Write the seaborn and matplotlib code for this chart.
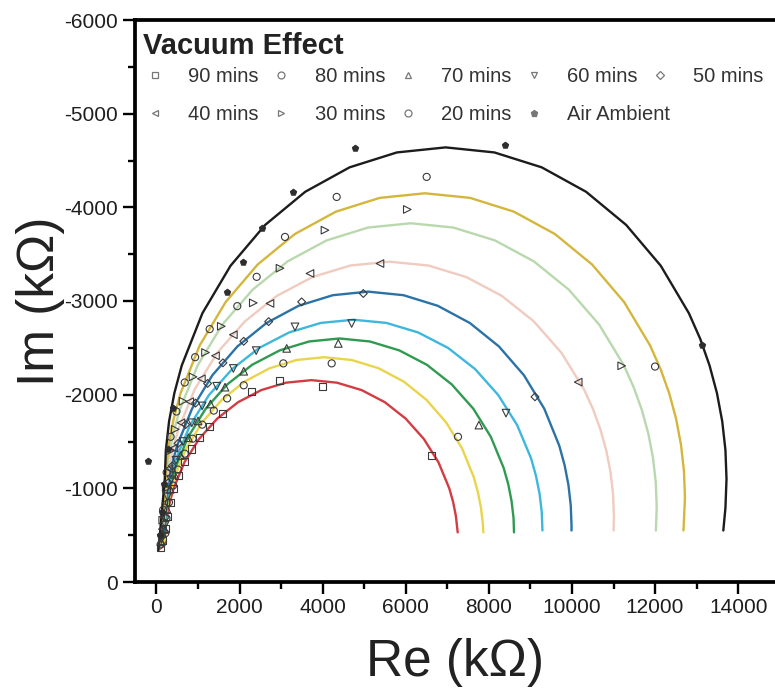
import matplotlib
matplotlib.use("Agg")
import matplotlib.pyplot as plt
from matplotlib.lines import Line2D
from matplotlib.ticker import MultipleLocator
import seaborn as sns

# series names, in legend order
labels = ["90 mins", "80 mins", "70 mins", "60 mins", "50 mins",
          "40 mins", "30 mins", "20 mins", "Air Ambient"]

# fitted curves (Re, Im in kOhm)
fit_x_90 = [70, 200, 213, 254, 320, 413, 673, 1026, 1461, 1965, 2523, 3117, 3730, 4343, 4937, 5495, 5999, 6434, 6787, 7047, 7140, 7206, 7250]
fit_y_90 = [-350, -400, -553, -705, -854, -1000, -1278, -1528, -1744, -1920, -2049, -2128, -2155, -2128, -2049, -1920, -1744, -1528, -1278, -1000, -854, -705, -530]

fit_x_80 = [60, 110, 200, 215, 258, 331, 431, 714, 1097, 1570, 2117, 2723, 3369, 4035, 4701, 5347, 5953, 6500, 6973, 7356, 7639, 7739, 7812, 7855, 7867]
fit_y_80 = [-350, -390, -450, -620, -789, -953, -1117, -1425, -1703, -1944, -2139, -2282, -2370, -2400, -2370, -2282, -2139, -1944, -1703, -1425, -1117, -953, -789, -620, -530]

fit_x_70 = [50, 100, 200, 216, 264, 343, 454, 763, 1184, 1702, 2302, 2967, 3675, 4405, 5135, 5843, 6508, 7108, 7626, 8047, 8356, 8467, 8546, 8594, 8605]
fit_y_70 = [-350, -410, -500, -683, -865, -1044, -1218, -1550, -1850, -2109, -2319, -2473, -2568, -2600, -2568, -2473, -2319, -2109, -1850, -1550, -1218, -1044, -865, -683, -530]

fit_x_60 = [50, 100, 200, 217, 269, 355, 474, 809, 1264, 1823, 2472, 3191, 3956, 4745, 5534, 6299, 7018, 7667, 8226, 8681, 9016, 9135, 9221, 9273, 9290]
fit_y_60 = [-350, -430, -550, -746, -941, -1132, -1320, -1675, -1996, -2274, -2499, -2664, -2766, -2800, -2766, -2664, -2499, -2274, -1996, -1675, -1320, -1132, -941, -746, -550]

fit_x_50 = [50, 110, 200, 219, 274, 367, 495, 856, 1345, 1948, 2647, 3421, 4245, 5095, 5945, 6769, 7543, 8242, 8845, 9334, 9695, 9823, 9916, 9971, 9990, 9989]
fit_y_50 = [-350, -450, -600, -818, -1034, -1247, -1455, -1850, -2207, -2515, -2765, -2949, -3062, -3100, -3062, -2949, -2765, -2515, -2207, -1850, -1455, -1247, -1034, -818, -600, -550]

fit_x_40 = [50, 120, 200, 221, 282, 384, 526, 924, 1465, 2131, 2902, 3756, 4667, 5605, 6543, 7454, 8308, 9079, 9745, 10286, 10504, 10684, 10826, 10928, 10989, 11010, 11002]
fit_y_40 = [-350, -520, -700, -937, -1172, -1404, -1630, -2060, -2448, -2784, -3056, -3256, -3379, -3420, -3379, -3256, -3056, -2784, -2448, -2060, -1849, -1630, -1404, -1172, -937, -700, -550]

fit_x_30 = [50, 80, 130, 200, 223, 290, 402, 557, 993, 1585, 2315, 3160, 4095, 5092, 6120, 7148, 8145, 9080, 9925, 10655, 11247, 11485, 11683, 11838, 11950, 12017, 12040, 12020]
fit_y_30 = [-350, -450, -600, -800, -1064, -1326, -1584, -1836, -2315, -2748, -3121, -3424, -3647, -3784, -3830, -3784, -3647, -3424, -3121, -2748, -2315, -2080, -1836, -1584, -1326, -1064, -800, -550]

fit_x_20 = [50, 90, 140, 200, 224, 295, 413, 577, 1039, 1665, 2436, 3330, 4319, 5373, 6460, 7547, 8601, 9590, 10484, 11255, 11881, 12133, 12343, 12507, 12625, 12696, 12720, 12684]
fit_y_20 = [-350, -500, -700, -900, -1183, -1464, -1741, -2012, -2525, -2989, -3390, -3715, -3954, -4101, -4150, -4101, -3954, -3715, -3390, -2989, -2525, -2273, -2012, -1741, -1464, -1183, -900, -550]

fit_x_air = [45, 70, 110, 150, 200, 226, 303, 430, 608, 1106, 1782, 2615, 3580, 4648, 5786, 6960, 8134, 9272, 10340, 11305, 12138, 12814, 13087, 13312, 13490, 13617, 13694, 13720, 13694, 13643]
fit_y_air = [-340, -450, -650, -850, -1100, -1409, -1715, -2016, -2311, -2870, -3376, -3812, -4166, -4427, -4586, -4640, -4586, -4427, -4166, -3812, -3376, -2870, -2596, -2311, -2016, -1715, -1409, -1100, -791, -550]

# measured points
pts_x_90 = [90, 150, 228, 260, 330, 420, 530, 680, 850, 1040, 1280, 1600, 2291, 2956, 3991, 6612]
pts_y_90 = [-370, -440, -570, -700, -850, -1000, -1140, -1290, -1420, -1540, -1660, -1800, -2031, -2155, -2084, -1355]

pts_x_80 = [100, 212, 240, 300, 400, 520, 680, 870, 1100, 1380, 1700, 2100, 3053, 4217, 7257]
pts_y_80 = [-400, -520, -680, -850, -1030, -1200, -1370, -1530, -1680, -1830, -1960, -2100, -2334, -2334, -1550]

pts_x_70 = [110, 200, 250, 330, 430, 580, 770, 1000, 1300, 1650, 2100, 3134, 4376, 7760]
pts_y_70 = [-430, -560, -780, -990, -1150, -1350, -1540, -1720, -1900, -2080, -2250, -2494, -2547, -1675]

pts_x_60 = [120, 210, 265, 350, 470, 640, 850, 1100, 1450, 1850, 2400, 3334, 4698, 8412]
pts_y_60 = [-460, -610, -910, -1090, -1300, -1500, -1700, -1880, -2090, -2280, -2470, -2724, -2760, -1803]

pts_x_50 = [130, 215, 285, 380, 520, 700, 940, 1230, 1600, 2100, 2700, 3494, 4978, 9110]
pts_y_50 = [-490, -690, -1060, -1240, -1480, -1680, -1910, -2120, -2340, -2570, -2780, -2991, -3080, -1977]

pts_x_40 = [140, 225, 300, 420, 590, 800, 1080, 1420, 1850, 2732, 3695, 5379, 10150]
pts_y_40 = [-565, -845, -1210, -1430, -1700, -1925, -2170, -2415, -2640, -2974, -3294, -3400, -2134]

pts_x_30 = [150, 235, 330, 450, 640, 880, 1180, 1560, 2330, 2973, 4056, 6037, 11197]
pts_y_30 = [-660, -1000, -1400, -1630, -1930, -2190, -2450, -2730, -2980, -3350, -3756, -3977, -2308]

pts_x_20 = [160, 245, 340, 480, 680, 930, 1280, 1945, 2411, 3093, 4337, 6503, 12000]
pts_y_20 = [-770, -1170, -1550, -1820, -2130, -2400, -2700, -2945, -3258, -3684, -4111, -4325, -2300]

pts_x_air = [-205, 90, 130, 190, 280, 397, 1697, 2082, 2540, 3286, 4779, 8388, 13130]
pts_y_air = [-1291, -500, -750, -1050, -1420, -1857, -3094, -3414, -3777, -4161, -4631, -4663, -2530]

fits = [(fit_x_90, fit_y_90), (fit_x_80, fit_y_80), (fit_x_70, fit_y_70),
        (fit_x_60, fit_y_60), (fit_x_50, fit_y_50), (fit_x_40, fit_y_40),
        (fit_x_30, fit_y_30), (fit_x_20, fit_y_20), (fit_x_air, fit_y_air)]
points = [(pts_x_90, pts_y_90), (pts_x_80, pts_y_80), (pts_x_70, pts_y_70),
          (pts_x_60, pts_y_60), (pts_x_50, pts_y_50), (pts_x_40, pts_y_40),
          (pts_x_30, pts_y_30), (pts_x_20, pts_y_20), (pts_x_air, pts_y_air)]

# styles
line_colors = ["#d23c43", "#e9d44c", "#2f9a50", "#3db8dc", "#2b73a6",
               "#f0cbc0", "#b9d8ad", "#d5b63c", "#1c1c1c"]
markers = ["s", "o", "^", "v", "D", "<", ">", "o", "p"]
marker_sizes = [26, 26, 30, 30, 16, 30, 30, 26, 24]

sns.set_theme(style="ticks")
plt.rcParams["font.family"] = ["Liberation Sans", "DejaVu Sans"]
plt.rcParams["axes.unicode_minus"] = False

fig = plt.figure(figsize=(7.75, 6.92), dpi=100)
ax = fig.add_axes([135 / 775, 110 / 692, 640 / 775, 562 / 692])

# fitted curves
for (fx, fy), col in zip(fits, line_colors):
    sns.lineplot(x=fx, y=fy, sort=False, estimator=None, color=col,
                 linewidth=1.7, ax=ax, legend=False, zorder=2)

# data points
for i, (px, py) in enumerate(points):
    if i == len(points) - 1:
        sns.scatterplot(x=px, y=py, marker=markers[i], s=marker_sizes[i],
                        facecolor="#2e2e2e", edgecolor="#2e2e2e", linewidth=0.6,
                        ax=ax, legend=False, zorder=3)
    else:
        sns.scatterplot(x=px, y=py, marker=markers[i], s=marker_sizes[i],
                        facecolor="none", edgecolor="#3a3a3a", linewidth=0.8,
                        ax=ax, legend=False, zorder=3)

ax.set_xlim(-517, 14887)
ax.set_ylim(0, -6000)
ax.xaxis.set_major_locator(MultipleLocator(2000))
ax.xaxis.set_minor_locator(MultipleLocator(1000))
ax.yaxis.set_major_locator(MultipleLocator(1000))
ax.yaxis.set_minor_locator(MultipleLocator(500))

for side in ["left", "bottom", "top"]:
    ax.spines[side].set_linewidth(2.7)
    ax.spines[side].set_color("black")
ax.spines["right"].set_visible(False)

ax.tick_params(which="major", direction="out", length=8.5, width=1.7,
               color="black", top=False, right=False,
               labelsize=15, labelcolor="#1e1e1e")
ax.tick_params(which="minor", direction="out", length=5, width=1.7,
               color="black", top=False, right=False)
ax.tick_params(axis="x", which="major", pad=3)
ax.tick_params(axis="y", which="major", pad=4)

ax.set_xlabel("Re (k\u03a9)", fontsize=37, color="#222222")
ax.set_ylabel("Im (k\u03a9)", fontsize=37, color="#222222")
ax.xaxis.set_label_coords(0.5, -0.1)
ax.yaxis.set_label_coords(-0.109, 0.5)

ax.text(0.0125, 0.954, "Vacuum Effect", transform=ax.transAxes,
        fontsize=21, fontweight="bold", ha="left", va="center", color="#222222")

# legend, two rows
handles = []
for i, lab in enumerate(labels):
    filled = i == len(labels) - 1
    handles.append(Line2D([], [], linestyle="none", marker=markers[i],
                          markersize=5 if markers[i] != "D" else 4,
                          markerfacecolor="#777777" if filled else "none",
                          markeredgecolor="#777777", markeredgewidth=0.9,
                          label=lab))

leg_kw = dict(loc="center left", frameon=False, borderpad=0, borderaxespad=0,
              handlelength=1.0, handletextpad=1.15, columnspacing=0.62,
              prop={"size": 14.5}, labelcolor="#333333")
leg1 = ax.legend(handles=handles[:5], ncol=5, bbox_to_anchor=(0.0156, 0.900), **leg_kw)
ax.add_artist(leg1)
ax.legend(handles=handles[5:], ncol=4, bbox_to_anchor=(0.0156, 0.831), **leg_kw)

fig.savefig("out.png", dpi=100, facecolor="white")
